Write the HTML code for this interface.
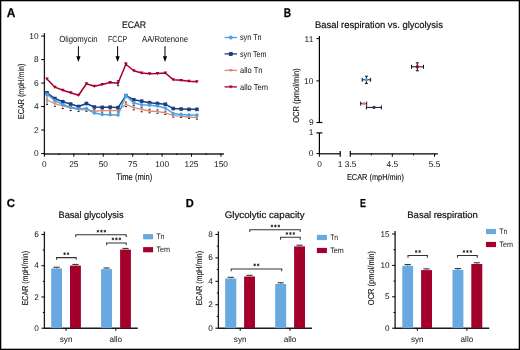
<!DOCTYPE html>
<html><head><meta charset="utf-8"><style>
html,body{margin:0;padding:0;background:#fff;}
svg{display:block;will-change:transform;}
text{font-family:"Liberation Sans", sans-serif;}
</style></head><body>
<svg width="520" height="350" viewBox="0 0 520 350" text-rendering="geometricPrecision" font-family='"Liberation Sans", sans-serif'>
<rect x="0" y="0" width="520" height="350" fill="#fff"/>
<text x="6.70" y="16.70" font-size="12.6" text-anchor="start" fill="#000" font-weight="bold" textLength="8.6" lengthAdjust="spacingAndGlyphs" stroke="#000" stroke-width="0.25">A</text>
<text x="134.00" y="27.60" font-size="9.6" text-anchor="middle" fill="#111" textLength="24.2" lengthAdjust="spacingAndGlyphs" stroke="#111" stroke-width="0.15">ECAR</text>
<line x1="44.40" y1="33.10" x2="44.40" y2="154.60" stroke="#1a1a1a" stroke-width="1.3"/>
<line x1="41.20" y1="153.50" x2="44.40" y2="153.50" stroke="#000" stroke-width="1.0"/>
<text x="38.60" y="156.00" font-size="8.4" text-anchor="end" fill="#111" >0</text>
<line x1="41.20" y1="130.02" x2="44.40" y2="130.02" stroke="#000" stroke-width="1.0"/>
<text x="38.60" y="132.52" font-size="8.4" text-anchor="end" fill="#111" >2</text>
<line x1="41.20" y1="106.54" x2="44.40" y2="106.54" stroke="#000" stroke-width="1.0"/>
<text x="38.60" y="109.04" font-size="8.4" text-anchor="end" fill="#111" >4</text>
<line x1="41.20" y1="83.06" x2="44.40" y2="83.06" stroke="#000" stroke-width="1.0"/>
<text x="38.60" y="85.56" font-size="8.4" text-anchor="end" fill="#111" >6</text>
<line x1="41.20" y1="59.58" x2="44.40" y2="59.58" stroke="#000" stroke-width="1.0"/>
<text x="38.60" y="62.08" font-size="8.4" text-anchor="end" fill="#111" >8</text>
<line x1="41.20" y1="36.10" x2="44.40" y2="36.10" stroke="#000" stroke-width="1.0"/>
<text x="38.60" y="38.60" font-size="8.4" text-anchor="end" fill="#111" >10</text>
<line x1="43.80" y1="153.90" x2="223.90" y2="153.90" stroke="#222" stroke-width="1.5"/>
<line x1="44.40" y1="153.50" x2="44.40" y2="156.70" stroke="#000" stroke-width="1.0"/>
<text x="44.40" y="166.60" font-size="8.3" text-anchor="middle" fill="#111" >0</text>
<line x1="73.83" y1="153.50" x2="73.83" y2="156.70" stroke="#000" stroke-width="1.0"/>
<text x="73.83" y="166.60" font-size="8.3" text-anchor="middle" fill="#111" >25</text>
<line x1="103.25" y1="153.50" x2="103.25" y2="156.70" stroke="#000" stroke-width="1.0"/>
<text x="103.25" y="166.60" font-size="8.3" text-anchor="middle" fill="#111" >50</text>
<line x1="132.68" y1="153.50" x2="132.68" y2="156.70" stroke="#000" stroke-width="1.0"/>
<text x="132.68" y="166.60" font-size="8.3" text-anchor="middle" fill="#111" >75</text>
<line x1="162.10" y1="153.50" x2="162.10" y2="156.70" stroke="#000" stroke-width="1.0"/>
<text x="162.10" y="166.60" font-size="8.3" text-anchor="middle" fill="#111" >100</text>
<line x1="191.53" y1="153.50" x2="191.53" y2="156.70" stroke="#000" stroke-width="1.0"/>
<text x="191.53" y="166.60" font-size="8.3" text-anchor="middle" fill="#111" >125</text>
<line x1="220.95" y1="153.50" x2="220.95" y2="156.70" stroke="#000" stroke-width="1.0"/>
<text x="220.95" y="166.60" font-size="8.3" text-anchor="middle" fill="#111" >150</text>
<line x1="59.11" y1="153.50" x2="59.11" y2="155.00" stroke="#000" stroke-width="1.0"/>
<line x1="88.54" y1="153.50" x2="88.54" y2="155.00" stroke="#000" stroke-width="1.0"/>
<line x1="117.96" y1="153.50" x2="117.96" y2="155.00" stroke="#000" stroke-width="1.0"/>
<line x1="147.39" y1="153.50" x2="147.39" y2="155.00" stroke="#000" stroke-width="1.0"/>
<line x1="176.81" y1="153.50" x2="176.81" y2="155.00" stroke="#000" stroke-width="1.0"/>
<line x1="206.24" y1="153.50" x2="206.24" y2="155.00" stroke="#000" stroke-width="1.0"/>
<text x="134.20" y="179.60" font-size="9.3" text-anchor="middle" fill="#111" textLength="36" lengthAdjust="spacingAndGlyphs" stroke="#111" stroke-width="0.12">Time (min)</text>
<text x="23.90" y="91.30" font-size="8.6" text-anchor="middle" fill="#111" textLength="55.5" lengthAdjust="spacingAndGlyphs" transform="rotate(-90 23.90 91.30)" stroke="#111" stroke-width="0.12">ECAR (mpH/min)</text>
<text x="78.40" y="41.90" font-size="8.8" text-anchor="middle" fill="#111" textLength="38.4" lengthAdjust="spacingAndGlyphs" >Oligomycin</text>
<line x1="78.40" y1="46.20" x2="78.40" y2="58.00" stroke="#000" stroke-width="1.0"/>
<path d="M76.30 56.2 L80.50 56.2 L78.40 62 Z" fill="#000"/>
<text x="117.60" y="41.90" font-size="8.8" text-anchor="middle" fill="#111" textLength="19" lengthAdjust="spacingAndGlyphs" >FCCP</text>
<line x1="117.60" y1="46.20" x2="117.60" y2="58.00" stroke="#000" stroke-width="1.0"/>
<path d="M115.50 56.2 L119.70 56.2 L117.60 62 Z" fill="#000"/>
<text x="165.00" y="41.90" font-size="8.8" text-anchor="middle" fill="#111" textLength="46" lengthAdjust="spacingAndGlyphs" >AA/Rotenone</text>
<line x1="165.00" y1="46.20" x2="165.00" y2="58.00" stroke="#000" stroke-width="1.0"/>
<path d="M162.90 56.2 L167.10 56.2 L165.00 62 Z" fill="#000"/>
<line x1="47.00" y1="95.37" x2="47.00" y2="104.57" stroke="#999" stroke-width="0.5"/>
<line x1="46.00" y1="104.57" x2="48.00" y2="104.57" stroke="#111" stroke-width="1.0"/>
<line x1="46.00" y1="95.37" x2="48.00" y2="95.37" stroke="#111" stroke-width="1.0"/>
<line x1="54.89" y1="101.12" x2="54.89" y2="106.32" stroke="#999" stroke-width="0.5"/>
<line x1="53.89" y1="106.32" x2="55.89" y2="106.32" stroke="#111" stroke-width="1.0"/>
<line x1="53.89" y1="101.12" x2="55.89" y2="101.12" stroke="#111" stroke-width="1.0"/>
<line x1="62.78" y1="103.35" x2="62.78" y2="108.55" stroke="#999" stroke-width="0.5"/>
<line x1="61.78" y1="108.55" x2="63.78" y2="108.55" stroke="#111" stroke-width="1.0"/>
<line x1="61.78" y1="103.35" x2="63.78" y2="103.35" stroke="#111" stroke-width="1.0"/>
<line x1="70.67" y1="105.35" x2="70.67" y2="110.55" stroke="#999" stroke-width="0.5"/>
<line x1="69.67" y1="110.55" x2="71.67" y2="110.55" stroke="#111" stroke-width="1.0"/>
<line x1="69.67" y1="105.35" x2="71.67" y2="105.35" stroke="#111" stroke-width="1.0"/>
<line x1="78.56" y1="107.79" x2="78.56" y2="111.39" stroke="#999" stroke-width="0.5"/>
<line x1="77.56" y1="111.39" x2="79.56" y2="111.39" stroke="#111" stroke-width="1.0"/>
<line x1="77.56" y1="107.79" x2="79.56" y2="107.79" stroke="#111" stroke-width="1.0"/>
<line x1="86.45" y1="108.33" x2="86.45" y2="111.33" stroke="#999" stroke-width="0.5"/>
<line x1="85.45" y1="111.33" x2="87.45" y2="111.33" stroke="#111" stroke-width="1.0"/>
<line x1="85.45" y1="108.33" x2="87.45" y2="108.33" stroke="#111" stroke-width="1.0"/>
<line x1="94.34" y1="109.74" x2="94.34" y2="112.74" stroke="#999" stroke-width="0.5"/>
<line x1="93.34" y1="112.74" x2="95.34" y2="112.74" stroke="#111" stroke-width="1.0"/>
<line x1="93.34" y1="109.74" x2="95.34" y2="109.74" stroke="#111" stroke-width="1.0"/>
<line x1="102.23" y1="109.15" x2="102.23" y2="112.15" stroke="#999" stroke-width="0.5"/>
<line x1="101.23" y1="112.15" x2="103.23" y2="112.15" stroke="#111" stroke-width="1.0"/>
<line x1="101.23" y1="109.15" x2="103.23" y2="109.15" stroke="#111" stroke-width="1.0"/>
<line x1="110.12" y1="109.03" x2="110.12" y2="112.03" stroke="#999" stroke-width="0.5"/>
<line x1="109.12" y1="112.03" x2="111.12" y2="112.03" stroke="#111" stroke-width="1.0"/>
<line x1="109.12" y1="109.03" x2="111.12" y2="109.03" stroke="#111" stroke-width="1.0"/>
<line x1="118.01" y1="109.03" x2="118.01" y2="112.03" stroke="#999" stroke-width="0.5"/>
<line x1="117.01" y1="112.03" x2="119.01" y2="112.03" stroke="#111" stroke-width="1.0"/>
<line x1="117.01" y1="109.03" x2="119.01" y2="109.03" stroke="#111" stroke-width="1.0"/>
<line x1="125.90" y1="102.01" x2="125.90" y2="106.61" stroke="#999" stroke-width="0.5"/>
<line x1="124.90" y1="106.61" x2="126.90" y2="106.61" stroke="#111" stroke-width="1.0"/>
<line x1="124.90" y1="102.01" x2="126.90" y2="102.01" stroke="#111" stroke-width="1.0"/>
<line x1="133.79" y1="105.30" x2="133.79" y2="109.90" stroke="#999" stroke-width="0.5"/>
<line x1="132.79" y1="109.90" x2="134.79" y2="109.90" stroke="#111" stroke-width="1.0"/>
<line x1="132.79" y1="105.30" x2="134.79" y2="105.30" stroke="#111" stroke-width="1.0"/>
<line x1="141.68" y1="107.17" x2="141.68" y2="111.77" stroke="#999" stroke-width="0.5"/>
<line x1="140.68" y1="111.77" x2="142.68" y2="111.77" stroke="#111" stroke-width="1.0"/>
<line x1="140.68" y1="107.17" x2="142.68" y2="107.17" stroke="#111" stroke-width="1.0"/>
<line x1="149.57" y1="109.20" x2="149.57" y2="112.80" stroke="#999" stroke-width="0.5"/>
<line x1="148.57" y1="112.80" x2="150.57" y2="112.80" stroke="#111" stroke-width="1.0"/>
<line x1="148.57" y1="109.20" x2="150.57" y2="109.20" stroke="#111" stroke-width="1.0"/>
<line x1="157.46" y1="109.89" x2="157.46" y2="113.29" stroke="#999" stroke-width="0.5"/>
<line x1="156.46" y1="113.29" x2="158.46" y2="113.29" stroke="#111" stroke-width="1.0"/>
<line x1="156.46" y1="109.89" x2="158.46" y2="109.89" stroke="#111" stroke-width="1.0"/>
<line x1="165.35" y1="111.16" x2="165.35" y2="114.36" stroke="#999" stroke-width="0.5"/>
<line x1="164.35" y1="114.36" x2="166.35" y2="114.36" stroke="#111" stroke-width="1.0"/>
<line x1="164.35" y1="111.16" x2="166.35" y2="111.16" stroke="#111" stroke-width="1.0"/>
<line x1="173.24" y1="114.30" x2="173.24" y2="117.10" stroke="#999" stroke-width="0.5"/>
<line x1="172.24" y1="117.10" x2="174.24" y2="117.10" stroke="#111" stroke-width="1.0"/>
<line x1="172.24" y1="114.30" x2="174.24" y2="114.30" stroke="#111" stroke-width="1.0"/>
<line x1="181.13" y1="114.87" x2="181.13" y2="117.47" stroke="#999" stroke-width="0.5"/>
<line x1="180.13" y1="117.47" x2="182.13" y2="117.47" stroke="#111" stroke-width="1.0"/>
<line x1="180.13" y1="114.87" x2="182.13" y2="114.87" stroke="#111" stroke-width="1.0"/>
<line x1="189.02" y1="115.49" x2="189.02" y2="118.49" stroke="#999" stroke-width="0.5"/>
<line x1="188.02" y1="118.49" x2="190.02" y2="118.49" stroke="#111" stroke-width="1.0"/>
<line x1="188.02" y1="115.49" x2="190.02" y2="115.49" stroke="#111" stroke-width="1.0"/>
<line x1="196.91" y1="116.08" x2="196.91" y2="119.08" stroke="#999" stroke-width="0.5"/>
<line x1="195.91" y1="119.08" x2="197.91" y2="119.08" stroke="#111" stroke-width="1.0"/>
<line x1="195.91" y1="116.08" x2="197.91" y2="116.08" stroke="#111" stroke-width="1.0"/>
<line x1="118.01" y1="80.68" x2="118.01" y2="85.68" stroke="#111" stroke-width="0.8"/>
<line x1="116.91" y1="80.68" x2="119.11" y2="80.68" stroke="#111" stroke-width="0.9"/>
<line x1="116.91" y1="85.68" x2="119.11" y2="85.68" stroke="#111" stroke-width="0.9"/>
<line x1="125.90" y1="62.88" x2="125.90" y2="64.78" stroke="#111" stroke-width="0.8"/>
<line x1="124.80" y1="62.88" x2="127.00" y2="62.88" stroke="#111" stroke-width="0.9"/>
<line x1="124.80" y1="64.78" x2="127.00" y2="64.78" stroke="#111" stroke-width="0.9"/>
<line x1="47.00" y1="96.00" x2="47.00" y2="104.50" stroke="#777" stroke-width="0.9"/>
<polyline points="47.00,99.97 54.89,103.72 62.78,105.95 70.67,107.95 78.56,109.59 86.45,109.83 94.34,111.24 102.23,110.65 110.12,110.53 118.01,110.53 125.90,104.31 133.79,107.60 141.68,109.47 149.57,111.00 157.46,111.59 165.35,112.76 173.24,115.70 181.13,116.17 189.02,116.99 196.91,117.58" fill="none" stroke="#da8a76" stroke-width="1.3" stroke-linejoin="round"/>
<path d="M45.50 98.77 L48.50 98.77 L47.00 101.47 Z" fill="#da8a76"/>
<path d="M53.39 102.52 L56.39 102.52 L54.89 105.22 Z" fill="#da8a76"/>
<path d="M61.28 104.75 L64.28 104.75 L62.78 107.45 Z" fill="#da8a76"/>
<path d="M69.17 106.75 L72.17 106.75 L70.67 109.45 Z" fill="#da8a76"/>
<path d="M77.06 108.39 L80.06 108.39 L78.56 111.09 Z" fill="#da8a76"/>
<path d="M84.95 108.63 L87.95 108.63 L86.45 111.33 Z" fill="#da8a76"/>
<path d="M92.84 110.04 L95.84 110.04 L94.34 112.74 Z" fill="#da8a76"/>
<path d="M100.73 109.45 L103.73 109.45 L102.23 112.15 Z" fill="#da8a76"/>
<path d="M108.62 109.33 L111.62 109.33 L110.12 112.03 Z" fill="#da8a76"/>
<path d="M116.51 109.33 L119.51 109.33 L118.01 112.03 Z" fill="#da8a76"/>
<path d="M124.40 103.11 L127.40 103.11 L125.90 105.81 Z" fill="#da8a76"/>
<path d="M132.29 106.40 L135.29 106.40 L133.79 109.10 Z" fill="#da8a76"/>
<path d="M140.18 108.27 L143.18 108.27 L141.68 110.97 Z" fill="#da8a76"/>
<path d="M148.07 109.80 L151.07 109.80 L149.57 112.50 Z" fill="#da8a76"/>
<path d="M155.96 110.39 L158.96 110.39 L157.46 113.09 Z" fill="#da8a76"/>
<path d="M163.85 111.56 L166.85 111.56 L165.35 114.26 Z" fill="#da8a76"/>
<path d="M171.74 114.50 L174.74 114.50 L173.24 117.20 Z" fill="#da8a76"/>
<path d="M179.63 114.97 L182.63 114.97 L181.13 117.67 Z" fill="#da8a76"/>
<path d="M187.52 115.79 L190.52 115.79 L189.02 118.49 Z" fill="#da8a76"/>
<path d="M195.41 116.38 L198.41 116.38 L196.91 119.08 Z" fill="#da8a76"/>
<polyline points="47.00,78.95 54.89,87.17 62.78,90.22 70.67,92.69 78.56,95.27 86.45,83.76 94.34,86.23 102.23,84.47 110.12,82.47 118.01,83.18 125.90,64.28 133.79,70.73 141.68,72.96 149.57,73.67 157.46,73.43 165.35,72.96 173.24,79.66 181.13,80.36 189.02,81.30 196.91,81.77" fill="none" stroke="#a6002c" stroke-width="1.5" stroke-linejoin="round"/>
<path d="M45.20 77.51 L48.80 77.51 L47.00 80.75 Z" fill="#a6002c"/>
<path d="M53.09 85.73 L56.69 85.73 L54.89 88.97 Z" fill="#a6002c"/>
<path d="M60.98 88.78 L64.58 88.78 L62.78 92.02 Z" fill="#a6002c"/>
<path d="M68.87 91.25 L72.47 91.25 L70.67 94.49 Z" fill="#a6002c"/>
<path d="M76.76 93.83 L80.36 93.83 L78.56 97.07 Z" fill="#a6002c"/>
<path d="M84.65 82.32 L88.25 82.32 L86.45 85.56 Z" fill="#a6002c"/>
<path d="M92.54 84.79 L96.14 84.79 L94.34 88.03 Z" fill="#a6002c"/>
<path d="M100.43 83.03 L104.03 83.03 L102.23 86.27 Z" fill="#a6002c"/>
<path d="M108.32 81.03 L111.92 81.03 L110.12 84.27 Z" fill="#a6002c"/>
<path d="M116.21 81.74 L119.81 81.74 L118.01 84.98 Z" fill="#a6002c"/>
<path d="M124.10 62.84 L127.70 62.84 L125.90 66.08 Z" fill="#a6002c"/>
<path d="M131.99 69.29 L135.59 69.29 L133.79 72.53 Z" fill="#a6002c"/>
<path d="M139.88 71.52 L143.48 71.52 L141.68 74.76 Z" fill="#a6002c"/>
<path d="M147.77 72.23 L151.37 72.23 L149.57 75.47 Z" fill="#a6002c"/>
<path d="M155.66 71.99 L159.26 71.99 L157.46 75.23 Z" fill="#a6002c"/>
<path d="M163.55 71.52 L167.15 71.52 L165.35 74.76 Z" fill="#a6002c"/>
<path d="M171.44 78.22 L175.04 78.22 L173.24 81.46 Z" fill="#a6002c"/>
<path d="M179.33 78.92 L182.93 78.92 L181.13 82.16 Z" fill="#a6002c"/>
<path d="M187.22 79.86 L190.82 79.86 L189.02 83.10 Z" fill="#a6002c"/>
<path d="M195.11 80.33 L198.71 80.33 L196.91 83.57 Z" fill="#a6002c"/>
<polyline points="47.00,92.80 54.89,98.56 62.78,101.73 70.67,104.07 78.56,106.54 86.45,103.49 94.34,107.01 102.23,107.36 110.12,107.13 118.01,107.60 125.90,95.62 133.79,99.73 141.68,101.14 149.57,102.67 157.46,103.49 165.35,104.19 173.24,108.54 181.13,109.01 189.02,109.36 196.91,109.36" fill="none" stroke="#1f3d80" stroke-width="1.5" stroke-linejoin="round"/>
<rect x="45.20" y="91.00" width="3.60" height="3.60" fill="#1f3d80"/>
<rect x="53.09" y="96.76" width="3.60" height="3.60" fill="#1f3d80"/>
<rect x="60.98" y="99.93" width="3.60" height="3.60" fill="#1f3d80"/>
<rect x="68.87" y="102.27" width="3.60" height="3.60" fill="#1f3d80"/>
<rect x="76.76" y="104.74" width="3.60" height="3.60" fill="#1f3d80"/>
<rect x="84.65" y="101.69" width="3.60" height="3.60" fill="#1f3d80"/>
<rect x="92.54" y="105.21" width="3.60" height="3.60" fill="#1f3d80"/>
<rect x="100.43" y="105.56" width="3.60" height="3.60" fill="#1f3d80"/>
<rect x="108.32" y="105.33" width="3.60" height="3.60" fill="#1f3d80"/>
<rect x="116.21" y="105.80" width="3.60" height="3.60" fill="#1f3d80"/>
<rect x="124.10" y="93.82" width="3.60" height="3.60" fill="#1f3d80"/>
<rect x="131.99" y="97.93" width="3.60" height="3.60" fill="#1f3d80"/>
<rect x="139.88" y="99.34" width="3.60" height="3.60" fill="#1f3d80"/>
<rect x="147.77" y="100.87" width="3.60" height="3.60" fill="#1f3d80"/>
<rect x="155.66" y="101.69" width="3.60" height="3.60" fill="#1f3d80"/>
<rect x="163.55" y="102.39" width="3.60" height="3.60" fill="#1f3d80"/>
<rect x="171.44" y="106.74" width="3.60" height="3.60" fill="#1f3d80"/>
<rect x="179.33" y="107.21" width="3.60" height="3.60" fill="#1f3d80"/>
<rect x="187.22" y="107.56" width="3.60" height="3.60" fill="#1f3d80"/>
<rect x="195.11" y="107.56" width="3.60" height="3.60" fill="#1f3d80"/>
<polyline points="47.00,94.21 54.89,100.79 62.78,104.43 70.67,107.36 78.56,108.77 86.45,108.54 94.34,113.11 102.23,114.52 110.12,114.64 118.01,114.99 125.90,95.62 133.79,103.02 141.68,104.78 149.57,105.13 157.46,105.95 165.35,108.07 173.24,113.47 181.13,114.41 189.02,114.99 196.91,115.11" fill="none" stroke="#4da3e6" stroke-width="1.5" stroke-linejoin="round"/>
<circle cx="47.00" cy="94.21" r="1.8" fill="#4da3e6"/>
<circle cx="54.89" cy="100.79" r="1.8" fill="#4da3e6"/>
<circle cx="62.78" cy="104.43" r="1.8" fill="#4da3e6"/>
<circle cx="70.67" cy="107.36" r="1.8" fill="#4da3e6"/>
<circle cx="78.56" cy="108.77" r="1.8" fill="#4da3e6"/>
<circle cx="86.45" cy="108.54" r="1.8" fill="#4da3e6"/>
<circle cx="94.34" cy="113.11" r="1.8" fill="#4da3e6"/>
<circle cx="102.23" cy="114.52" r="1.8" fill="#4da3e6"/>
<circle cx="110.12" cy="114.64" r="1.8" fill="#4da3e6"/>
<circle cx="118.01" cy="114.99" r="1.8" fill="#4da3e6"/>
<circle cx="125.90" cy="95.62" r="1.8" fill="#4da3e6"/>
<circle cx="133.79" cy="103.02" r="1.8" fill="#4da3e6"/>
<circle cx="141.68" cy="104.78" r="1.8" fill="#4da3e6"/>
<circle cx="149.57" cy="105.13" r="1.8" fill="#4da3e6"/>
<circle cx="157.46" cy="105.95" r="1.8" fill="#4da3e6"/>
<circle cx="165.35" cy="108.07" r="1.8" fill="#4da3e6"/>
<circle cx="173.24" cy="113.47" r="1.8" fill="#4da3e6"/>
<circle cx="181.13" cy="114.41" r="1.8" fill="#4da3e6"/>
<circle cx="189.02" cy="114.99" r="1.8" fill="#4da3e6"/>
<circle cx="196.91" cy="115.11" r="1.8" fill="#4da3e6"/>
<line x1="224.60" y1="37.50" x2="237.00" y2="37.50" stroke="#4da3e6" stroke-width="1.3"/>
<circle cx="230.80" cy="37.50" r="1.9" fill="#4da3e6"/>
<text x="240.00" y="40.30" font-size="8.4" text-anchor="start" fill="#111" textLength="21.6" lengthAdjust="spacingAndGlyphs" >syn Tn</text>
<line x1="224.60" y1="53.90" x2="237.00" y2="53.90" stroke="#1f3d80" stroke-width="1.3"/>
<rect x="228.70" y="51.90" width="4.2" height="4.0" rx="1.2" fill="#1f3d80"/>
<text x="240.00" y="56.70" font-size="8.4" text-anchor="start" fill="#111" textLength="26.6" lengthAdjust="spacingAndGlyphs" >syn Tem</text>
<line x1="224.60" y1="70.40" x2="237.00" y2="70.40" stroke="#da8a76" stroke-width="1.3"/>
<path d="M229.00 68.96 L232.60 68.96 L230.80 72.20 Z" fill="#da8a76"/>
<text x="240.00" y="73.20" font-size="8.4" text-anchor="start" fill="#111" textLength="22.5" lengthAdjust="spacingAndGlyphs" >allo Tn</text>
<line x1="224.60" y1="86.90" x2="237.00" y2="86.90" stroke="#a6002c" stroke-width="1.3"/>
<path d="M229.00 85.46 L232.60 85.46 L230.80 88.70 Z" fill="#a6002c"/>
<text x="240.00" y="89.70" font-size="8.4" text-anchor="start" fill="#111" textLength="28" lengthAdjust="spacingAndGlyphs" >allo Tem</text>
<text x="283.70" y="16.70" font-size="12.6" text-anchor="start" fill="#000" font-weight="bold" textLength="7.3" lengthAdjust="spacingAndGlyphs" stroke="#000" stroke-width="0.25">B</text>
<text x="378.90" y="27.50" font-size="9.6" text-anchor="middle" fill="#111" textLength="128" lengthAdjust="spacingAndGlyphs" stroke="#111" stroke-width="0.2">Basal respiration vs. glycolysis</text>
<line x1="319.40" y1="36.00" x2="319.40" y2="122.50" stroke="#000" stroke-width="1.2"/>
<line x1="316.40" y1="122.50" x2="322.40" y2="122.50" stroke="#000" stroke-width="1.2"/>
<line x1="316.40" y1="132.90" x2="322.40" y2="132.90" stroke="#000" stroke-width="1.2"/>
<line x1="319.40" y1="132.90" x2="319.40" y2="154.20" stroke="#000" stroke-width="1.2"/>
<line x1="316.40" y1="38.60" x2="319.40" y2="38.60" stroke="#000" stroke-width="1.0"/>
<text x="313.30" y="41.50" font-size="8.4" text-anchor="end" fill="#111" >11</text>
<line x1="316.40" y1="80.90" x2="319.40" y2="80.90" stroke="#000" stroke-width="1.0"/>
<text x="313.30" y="83.80" font-size="8.4" text-anchor="end" fill="#111" >10</text>
<text x="313.60" y="125.20" font-size="8.4" text-anchor="end" fill="#111" >9</text>
<text x="313.30" y="135.40" font-size="8.4" text-anchor="end" fill="#111" >1</text>
<line x1="316.40" y1="153.60" x2="319.40" y2="153.60" stroke="#000" stroke-width="1.0"/>
<text x="313.30" y="156.30" font-size="8.4" text-anchor="end" fill="#111" >0</text>
<line x1="318.80" y1="153.80" x2="340.20" y2="153.80" stroke="#000" stroke-width="1.2"/>
<line x1="340.20" y1="150.90" x2="340.20" y2="156.70" stroke="#000" stroke-width="1.2"/>
<line x1="350.30" y1="150.90" x2="350.30" y2="156.70" stroke="#000" stroke-width="1.2"/>
<line x1="350.30" y1="153.80" x2="437.80" y2="153.80" stroke="#000" stroke-width="1.2"/>
<line x1="319.40" y1="153.80" x2="319.40" y2="156.80" stroke="#000" stroke-width="1.0"/>
<line x1="392.30" y1="153.80" x2="392.30" y2="156.80" stroke="#000" stroke-width="1.0"/>
<line x1="434.60" y1="153.80" x2="434.60" y2="156.80" stroke="#000" stroke-width="1.0"/>
<line x1="371.30" y1="153.80" x2="371.30" y2="155.40" stroke="#000" stroke-width="1.0"/>
<line x1="413.40" y1="153.80" x2="413.40" y2="155.40" stroke="#000" stroke-width="1.0"/>
<text x="319.50" y="166.70" font-size="8.4" text-anchor="middle" fill="#111" >0</text>
<text x="340.20" y="166.70" font-size="8.4" text-anchor="middle" fill="#111" >1</text>
<text x="350.60" y="166.70" font-size="8.4" text-anchor="middle" fill="#111" >3.5</text>
<text x="392.30" y="166.70" font-size="8.4" text-anchor="middle" fill="#111" >4.5</text>
<text x="434.60" y="166.70" font-size="8.4" text-anchor="middle" fill="#111" >5.5</text>
<text x="375.40" y="179.80" font-size="8.6" text-anchor="middle" fill="#111" textLength="57" lengthAdjust="spacingAndGlyphs" stroke="#111" stroke-width="0.12">ECAR (mpH/min)</text>
<text x="298.80" y="95.60" font-size="8.6" text-anchor="middle" fill="#111" textLength="54.5" lengthAdjust="spacingAndGlyphs" transform="rotate(-90 298.80 95.60)" stroke="#111" stroke-width="0.12">OCR (pmol/min)</text>
<line x1="362.20" y1="79.80" x2="370.60" y2="79.80" stroke="#111" stroke-width="1.0"/>
<line x1="362.20" y1="77.80" x2="362.20" y2="81.80" stroke="#111" stroke-width="1.0"/>
<line x1="370.60" y1="77.80" x2="370.60" y2="81.80" stroke="#111" stroke-width="1.0"/>
<line x1="366.40" y1="76.20" x2="366.40" y2="83.40" stroke="#111" stroke-width="1.0"/>
<line x1="364.90" y1="76.20" x2="367.90" y2="76.20" stroke="#111" stroke-width="1.0"/>
<line x1="364.90" y1="83.40" x2="367.90" y2="83.40" stroke="#111" stroke-width="1.0"/>
<circle cx="366.40" cy="79.80" r="1.7" fill="#4da3e6"/>
<line x1="360.70" y1="103.60" x2="366.70" y2="103.60" stroke="#111" stroke-width="1.0"/>
<line x1="360.70" y1="101.60" x2="360.70" y2="105.60" stroke="#111" stroke-width="1.0"/>
<line x1="366.70" y1="101.60" x2="366.70" y2="105.60" stroke="#111" stroke-width="1.0"/>
<circle cx="363.90" cy="103.60" r="1.7" fill="#da8a76"/>
<line x1="366.40" y1="107.40" x2="381.40" y2="107.40" stroke="#111" stroke-width="1.0"/>
<line x1="366.40" y1="105.40" x2="366.40" y2="109.40" stroke="#111" stroke-width="1.0"/>
<line x1="381.40" y1="105.40" x2="381.40" y2="109.40" stroke="#111" stroke-width="1.0"/>
<circle cx="374.00" cy="107.40" r="1.7" fill="#1f3d80"/>
<line x1="411.50" y1="66.80" x2="423.50" y2="66.80" stroke="#111" stroke-width="1.0"/>
<line x1="411.50" y1="64.80" x2="411.50" y2="68.80" stroke="#111" stroke-width="1.0"/>
<line x1="423.50" y1="64.80" x2="423.50" y2="68.80" stroke="#111" stroke-width="1.0"/>
<line x1="417.30" y1="62.80" x2="417.30" y2="70.80" stroke="#111" stroke-width="1.0"/>
<line x1="415.80" y1="62.80" x2="418.80" y2="62.80" stroke="#111" stroke-width="1.0"/>
<line x1="415.80" y1="70.80" x2="418.80" y2="70.80" stroke="#111" stroke-width="1.0"/>
<circle cx="417.30" cy="66.80" r="1.7" fill="#a6002c"/>
<text x="6.70" y="207.00" font-size="11.6" text-anchor="start" fill="#000" font-weight="bold" textLength="8.2" lengthAdjust="spacingAndGlyphs" stroke="#000" stroke-width="0.25">C</text>
<text x="91.00" y="218.00" font-size="9.5" text-anchor="middle" fill="#111" textLength="65" lengthAdjust="spacingAndGlyphs" stroke="#111" stroke-width="0.2">Basal glycolysis</text>
<line x1="44.40" y1="231.60" x2="44.40" y2="328.90" stroke="#1a1a1a" stroke-width="1.3"/>
<line x1="41.40" y1="328.20" x2="44.40" y2="328.20" stroke="#000" stroke-width="1.0"/>
<text x="38.80" y="330.80" font-size="8.2" text-anchor="end" fill="#111" >0</text>
<line x1="41.40" y1="296.96" x2="44.40" y2="296.96" stroke="#000" stroke-width="1.0"/>
<text x="38.80" y="299.56" font-size="8.2" text-anchor="end" fill="#111" >2</text>
<line x1="41.40" y1="265.72" x2="44.40" y2="265.72" stroke="#000" stroke-width="1.0"/>
<text x="38.80" y="268.32" font-size="8.2" text-anchor="end" fill="#111" >4</text>
<line x1="41.40" y1="234.48" x2="44.40" y2="234.48" stroke="#000" stroke-width="1.0"/>
<text x="38.80" y="237.08" font-size="8.2" text-anchor="end" fill="#111" >6</text>
<line x1="42.80" y1="312.58" x2="44.40" y2="312.58" stroke="#000" stroke-width="1.0"/>
<line x1="42.80" y1="281.34" x2="44.40" y2="281.34" stroke="#000" stroke-width="1.0"/>
<line x1="42.80" y1="250.10" x2="44.40" y2="250.10" stroke="#000" stroke-width="1.0"/>
<line x1="43.80" y1="328.20" x2="137.70" y2="328.20" stroke="#1a1a1a" stroke-width="1.4"/>
<line x1="66.10" y1="328.20" x2="66.10" y2="330.80" stroke="#000" stroke-width="1.0"/>
<text x="66.10" y="341.70" font-size="8.2" text-anchor="middle" fill="#111" >syn</text>
<line x1="115.80" y1="328.20" x2="115.80" y2="330.80" stroke="#000" stroke-width="1.0"/>
<text x="115.80" y="341.70" font-size="8.2" text-anchor="middle" fill="#111" >allo</text>
<rect x="51.20" y="268.40" width="10.80" height="59.80" fill="#68a9df"/>
<line x1="53.50" y1="267.20" x2="59.70" y2="267.20" stroke="#222" stroke-width="1.0"/>
<line x1="56.60" y1="267.20" x2="56.60" y2="268.40" stroke="#555" stroke-width="0.8"/>
<rect x="70.00" y="265.60" width="10.90" height="62.60" fill="#a3002b"/>
<line x1="72.35" y1="264.40" x2="78.55" y2="264.40" stroke="#222" stroke-width="1.0"/>
<line x1="75.45" y1="264.40" x2="75.45" y2="265.60" stroke="#555" stroke-width="0.8"/>
<rect x="101.10" y="269.20" width="10.90" height="59.00" fill="#68a9df"/>
<line x1="103.45" y1="268.00" x2="109.65" y2="268.00" stroke="#222" stroke-width="1.0"/>
<line x1="106.55" y1="268.00" x2="106.55" y2="269.20" stroke="#555" stroke-width="0.8"/>
<rect x="120.10" y="249.60" width="10.80" height="78.60" fill="#a3002b"/>
<line x1="122.40" y1="248.40" x2="128.60" y2="248.40" stroke="#222" stroke-width="1.0"/>
<line x1="125.50" y1="248.40" x2="125.50" y2="249.60" stroke="#555" stroke-width="0.8"/>
<path d="M56.60 259.80 L56.60 257.60 L76.20 257.60 L76.20 259.80" fill="none" stroke="#333" stroke-width="1.05"/>
<path d="M64.58 252.35 L64.58 255.05 M63.41 253.02 L65.74 254.38 M65.74 253.02 L63.41 254.38 " stroke="#222" stroke-width="0.85" fill="none"/>
<path d="M68.02 252.35 L68.02 255.05 M66.86 253.02 L69.19 254.38 M69.19 253.02 L66.86 254.38 " stroke="#222" stroke-width="0.85" fill="none"/>
<path d="M75.80 237.10 L75.80 234.70 L126.20 234.70 L126.20 237.10" fill="none" stroke="#333" stroke-width="1.05"/>
<path d="M97.95 229.85 L97.95 232.55 M96.78 230.52 L99.12 231.88 M99.12 230.52 L96.78 231.88 " stroke="#222" stroke-width="0.85" fill="none"/>
<path d="M101.40 229.85 L101.40 232.55 M100.23 230.52 L102.57 231.88 M102.57 230.52 L100.23 231.88 " stroke="#222" stroke-width="0.85" fill="none"/>
<path d="M104.85 229.85 L104.85 232.55 M103.68 230.52 L106.02 231.88 M106.02 230.52 L103.68 231.88 " stroke="#222" stroke-width="0.85" fill="none"/>
<path d="M106.60 245.20 L106.60 243.00 L126.20 243.00 L126.20 245.20" fill="none" stroke="#333" stroke-width="1.05"/>
<path d="M112.95 237.55 L112.95 240.25 M111.78 238.22 L114.12 239.58 M114.12 238.22 L111.78 239.58 " stroke="#222" stroke-width="0.85" fill="none"/>
<path d="M116.40 237.55 L116.40 240.25 M115.23 238.22 L117.57 239.58 M117.57 238.22 L115.23 239.58 " stroke="#222" stroke-width="0.85" fill="none"/>
<path d="M119.85 237.55 L119.85 240.25 M118.68 238.22 L121.02 239.58 M121.02 238.22 L118.68 239.58 " stroke="#222" stroke-width="0.85" fill="none"/>
<rect x="143.10" y="234.10" width="10" height="5.2" fill="#68a9df"/>
<rect x="143.10" y="247.10" width="10" height="5.2" fill="#a3002b"/>
<text x="156.40" y="239.20" font-size="7.9" text-anchor="start" fill="#111" textLength="7.9" lengthAdjust="spacingAndGlyphs" >Tn</text>
<text x="156.40" y="252.20" font-size="7.9" text-anchor="start" fill="#111" textLength="13.6" lengthAdjust="spacingAndGlyphs" >Tem</text>
<text x="28.20" y="278.10" font-size="8.6" text-anchor="middle" fill="#111" textLength="54.5" lengthAdjust="spacingAndGlyphs" transform="rotate(-90 28.20 278.10)" stroke="#111" stroke-width="0.12">ECAR (mpH/min)</text>
<text x="185.70" y="207.00" font-size="11.6" text-anchor="start" fill="#000" font-weight="bold" textLength="8.0" lengthAdjust="spacingAndGlyphs" stroke="#000" stroke-width="0.25">D</text>
<text x="264.70" y="218.00" font-size="9.5" text-anchor="middle" fill="#111" textLength="80" lengthAdjust="spacingAndGlyphs" stroke="#111" stroke-width="0.2">Glycolytic capacity</text>
<line x1="218.40" y1="231.40" x2="218.40" y2="328.90" stroke="#1a1a1a" stroke-width="1.3"/>
<line x1="215.40" y1="328.20" x2="218.40" y2="328.20" stroke="#000" stroke-width="1.0"/>
<text x="212.80" y="330.80" font-size="8.2" text-anchor="end" fill="#111" >0</text>
<line x1="215.40" y1="304.76" x2="218.40" y2="304.76" stroke="#000" stroke-width="1.0"/>
<text x="212.80" y="307.36" font-size="8.2" text-anchor="end" fill="#111" >2</text>
<line x1="215.40" y1="281.32" x2="218.40" y2="281.32" stroke="#000" stroke-width="1.0"/>
<text x="212.80" y="283.92" font-size="8.2" text-anchor="end" fill="#111" >4</text>
<line x1="215.40" y1="257.88" x2="218.40" y2="257.88" stroke="#000" stroke-width="1.0"/>
<text x="212.80" y="260.48" font-size="8.2" text-anchor="end" fill="#111" >6</text>
<line x1="215.40" y1="234.44" x2="218.40" y2="234.44" stroke="#000" stroke-width="1.0"/>
<text x="212.80" y="237.04" font-size="8.2" text-anchor="end" fill="#111" >8</text>
<line x1="216.80" y1="316.48" x2="218.40" y2="316.48" stroke="#000" stroke-width="1.0"/>
<line x1="216.80" y1="293.04" x2="218.40" y2="293.04" stroke="#000" stroke-width="1.0"/>
<line x1="216.80" y1="269.60" x2="218.40" y2="269.60" stroke="#000" stroke-width="1.0"/>
<line x1="216.80" y1="246.16" x2="218.40" y2="246.16" stroke="#000" stroke-width="1.0"/>
<line x1="217.80" y1="328.20" x2="312.00" y2="328.20" stroke="#1a1a1a" stroke-width="1.4"/>
<line x1="240.20" y1="328.20" x2="240.20" y2="330.80" stroke="#000" stroke-width="1.0"/>
<text x="240.20" y="341.70" font-size="8.2" text-anchor="middle" fill="#111" >syn</text>
<line x1="290.00" y1="328.20" x2="290.00" y2="330.80" stroke="#000" stroke-width="1.0"/>
<text x="290.00" y="341.70" font-size="8.2" text-anchor="middle" fill="#111" >allo</text>
<rect x="225.20" y="278.50" width="11.10" height="49.70" fill="#68a9df"/>
<line x1="227.65" y1="277.30" x2="233.85" y2="277.30" stroke="#222" stroke-width="1.0"/>
<line x1="230.75" y1="277.30" x2="230.75" y2="278.50" stroke="#555" stroke-width="0.8"/>
<rect x="244.10" y="276.50" width="10.90" height="51.70" fill="#a3002b"/>
<line x1="246.45" y1="275.30" x2="252.65" y2="275.30" stroke="#222" stroke-width="1.0"/>
<line x1="249.55" y1="275.30" x2="249.55" y2="276.50" stroke="#555" stroke-width="0.8"/>
<rect x="275.20" y="284.00" width="11.00" height="44.20" fill="#68a9df"/>
<line x1="277.60" y1="282.80" x2="283.80" y2="282.80" stroke="#222" stroke-width="1.0"/>
<line x1="280.70" y1="282.80" x2="280.70" y2="284.00" stroke="#555" stroke-width="0.8"/>
<rect x="294.10" y="246.40" width="10.90" height="81.80" fill="#a3002b"/>
<line x1="296.45" y1="245.20" x2="302.65" y2="245.20" stroke="#222" stroke-width="1.0"/>
<line x1="299.55" y1="245.20" x2="299.55" y2="246.40" stroke="#555" stroke-width="0.8"/>
<path d="M231.20 271.20 L231.20 269.00 L281.70 269.00 L281.70 271.20" fill="none" stroke="#333" stroke-width="1.05"/>
<path d="M254.67 263.55 L254.67 266.25 M253.51 264.22 L255.84 265.57 M255.84 264.22 L253.51 265.57 " stroke="#222" stroke-width="0.85" fill="none"/>
<path d="M258.12 263.55 L258.12 266.25 M256.96 264.22 L259.29 265.57 M259.29 264.22 L256.96 265.57 " stroke="#222" stroke-width="0.85" fill="none"/>
<path d="M249.80 232.10 L249.80 229.70 L300.20 229.70 L300.20 232.10" fill="none" stroke="#333" stroke-width="1.05"/>
<path d="M271.95 224.65 L271.95 227.35 M270.78 225.32 L273.12 226.68 M273.12 225.32 L270.78 226.68 " stroke="#222" stroke-width="0.85" fill="none"/>
<path d="M275.40 224.65 L275.40 227.35 M274.23 225.32 L276.57 226.68 M276.57 225.32 L274.23 226.68 " stroke="#222" stroke-width="0.85" fill="none"/>
<path d="M278.85 224.65 L278.85 227.35 M277.68 225.32 L280.02 226.68 M280.02 225.32 L277.68 226.68 " stroke="#222" stroke-width="0.85" fill="none"/>
<path d="M280.60 239.80 L280.60 237.30 L300.20 237.30 L300.20 239.80" fill="none" stroke="#333" stroke-width="1.05"/>
<path d="M286.95 232.15 L286.95 234.85 M285.78 232.82 L288.12 234.18 M288.12 232.82 L285.78 234.18 " stroke="#222" stroke-width="0.85" fill="none"/>
<path d="M290.40 232.15 L290.40 234.85 M289.23 232.82 L291.57 234.18 M291.57 232.82 L289.23 234.18 " stroke="#222" stroke-width="0.85" fill="none"/>
<path d="M293.85 232.15 L293.85 234.85 M292.68 232.82 L295.02 234.18 M295.02 232.82 L292.68 234.18 " stroke="#222" stroke-width="0.85" fill="none"/>
<rect x="316.90" y="234.90" width="10" height="5.2" fill="#68a9df"/>
<rect x="316.90" y="247.90" width="10" height="5.2" fill="#a3002b"/>
<text x="330.20" y="240.00" font-size="7.9" text-anchor="start" fill="#111" textLength="7.9" lengthAdjust="spacingAndGlyphs" >Tn</text>
<text x="330.20" y="253.00" font-size="7.9" text-anchor="start" fill="#111" textLength="13.6" lengthAdjust="spacingAndGlyphs" >Tem</text>
<text x="202.10" y="278.10" font-size="8.6" text-anchor="middle" fill="#111" textLength="54.5" lengthAdjust="spacingAndGlyphs" transform="rotate(-90 202.10 278.10)" stroke="#111" stroke-width="0.12">ECAR (mpH/min)</text>
<text x="360.00" y="207.00" font-size="11.6" text-anchor="start" fill="#000" font-weight="bold" textLength="5.9" lengthAdjust="spacingAndGlyphs" stroke="#000" stroke-width="0.25">E</text>
<text x="442.60" y="218.00" font-size="9.5" text-anchor="middle" fill="#111" textLength="70.6" lengthAdjust="spacingAndGlyphs" stroke="#111" stroke-width="0.2">Basal respiration</text>
<line x1="395.10" y1="231.00" x2="395.10" y2="328.90" stroke="#1a1a1a" stroke-width="1.3"/>
<line x1="392.10" y1="328.20" x2="395.10" y2="328.20" stroke="#000" stroke-width="1.0"/>
<text x="389.50" y="330.80" font-size="8.2" text-anchor="end" fill="#111" >0</text>
<line x1="392.10" y1="296.80" x2="395.10" y2="296.80" stroke="#000" stroke-width="1.0"/>
<text x="389.50" y="299.40" font-size="8.2" text-anchor="end" fill="#111" >5</text>
<line x1="392.10" y1="265.40" x2="395.10" y2="265.40" stroke="#000" stroke-width="1.0"/>
<text x="389.50" y="268.00" font-size="8.2" text-anchor="end" fill="#111" >10</text>
<line x1="392.10" y1="234.00" x2="395.10" y2="234.00" stroke="#000" stroke-width="1.0"/>
<text x="389.50" y="236.60" font-size="8.2" text-anchor="end" fill="#111" >15</text>
<line x1="393.50" y1="312.50" x2="395.10" y2="312.50" stroke="#000" stroke-width="1.0"/>
<line x1="393.50" y1="281.10" x2="395.10" y2="281.10" stroke="#000" stroke-width="1.0"/>
<line x1="393.50" y1="249.70" x2="395.10" y2="249.70" stroke="#000" stroke-width="1.0"/>
<line x1="394.50" y1="328.20" x2="489.30" y2="328.20" stroke="#1a1a1a" stroke-width="1.4"/>
<line x1="417.30" y1="328.20" x2="417.30" y2="330.80" stroke="#000" stroke-width="1.0"/>
<text x="417.30" y="341.70" font-size="8.2" text-anchor="middle" fill="#111" >syn</text>
<line x1="466.90" y1="328.20" x2="466.90" y2="330.80" stroke="#000" stroke-width="1.0"/>
<text x="466.90" y="341.70" font-size="8.2" text-anchor="middle" fill="#111" >allo</text>
<rect x="402.30" y="265.80" width="10.80" height="62.40" fill="#68a9df"/>
<line x1="404.60" y1="264.60" x2="410.80" y2="264.60" stroke="#222" stroke-width="1.0"/>
<line x1="407.70" y1="264.60" x2="407.70" y2="265.80" stroke="#555" stroke-width="0.8"/>
<rect x="421.10" y="270.10" width="10.90" height="58.10" fill="#a3002b"/>
<line x1="423.45" y1="268.90" x2="429.65" y2="268.90" stroke="#222" stroke-width="1.0"/>
<line x1="426.55" y1="268.90" x2="426.55" y2="270.10" stroke="#555" stroke-width="0.8"/>
<rect x="452.50" y="269.80" width="10.90" height="58.40" fill="#68a9df"/>
<line x1="454.85" y1="268.60" x2="461.05" y2="268.60" stroke="#222" stroke-width="1.0"/>
<line x1="457.95" y1="268.60" x2="457.95" y2="269.80" stroke="#555" stroke-width="0.8"/>
<rect x="471.30" y="264.00" width="11.00" height="64.20" fill="#a3002b"/>
<line x1="473.70" y1="262.80" x2="479.90" y2="262.80" stroke="#222" stroke-width="1.0"/>
<line x1="476.80" y1="262.80" x2="476.80" y2="264.00" stroke="#555" stroke-width="0.8"/>
<path d="M408.00 257.70 L408.00 255.40 L427.40 255.40 L427.40 257.70" fill="none" stroke="#333" stroke-width="1.05"/>
<path d="M416.17 250.15 L416.17 252.85 M415.01 250.82 L417.34 252.18 M417.34 250.82 L415.01 252.18 " stroke="#222" stroke-width="0.85" fill="none"/>
<path d="M419.62 250.15 L419.62 252.85 M418.46 250.82 L420.79 252.18 M420.79 250.82 L418.46 252.18 " stroke="#222" stroke-width="0.85" fill="none"/>
<path d="M457.50 257.70 L457.50 255.40 L477.30 255.40 L477.30 257.70" fill="none" stroke="#333" stroke-width="1.05"/>
<path d="M463.95 250.15 L463.95 252.85 M462.78 250.82 L465.12 252.18 M465.12 250.82 L462.78 252.18 " stroke="#222" stroke-width="0.85" fill="none"/>
<path d="M467.40 250.15 L467.40 252.85 M466.23 250.82 L468.57 252.18 M468.57 250.82 L466.23 252.18 " stroke="#222" stroke-width="0.85" fill="none"/>
<path d="M470.85 250.15 L470.85 252.85 M469.68 250.82 L472.02 252.18 M472.02 250.82 L469.68 252.18 " stroke="#222" stroke-width="0.85" fill="none"/>
<rect x="486.00" y="228.90" width="10" height="5.2" fill="#68a9df"/>
<rect x="486.00" y="241.90" width="10" height="5.2" fill="#a3002b"/>
<text x="499.30" y="234.00" font-size="7.9" text-anchor="start" fill="#111" textLength="7.9" lengthAdjust="spacingAndGlyphs" >Tn</text>
<text x="499.30" y="247.00" font-size="7.9" text-anchor="start" fill="#111" textLength="13.6" lengthAdjust="spacingAndGlyphs" >Tem</text>
<text x="374.20" y="278.10" font-size="8.6" text-anchor="middle" fill="#111" textLength="54.2" lengthAdjust="spacingAndGlyphs" transform="rotate(-90 374.20 278.10)" stroke="#111" stroke-width="0.12">OCR (pmol/min)</text>
<rect x="0.6" y="0.6" width="518.8" height="348.8" fill="none" stroke="#000" stroke-width="1.4"/>
</svg>
</body></html>
